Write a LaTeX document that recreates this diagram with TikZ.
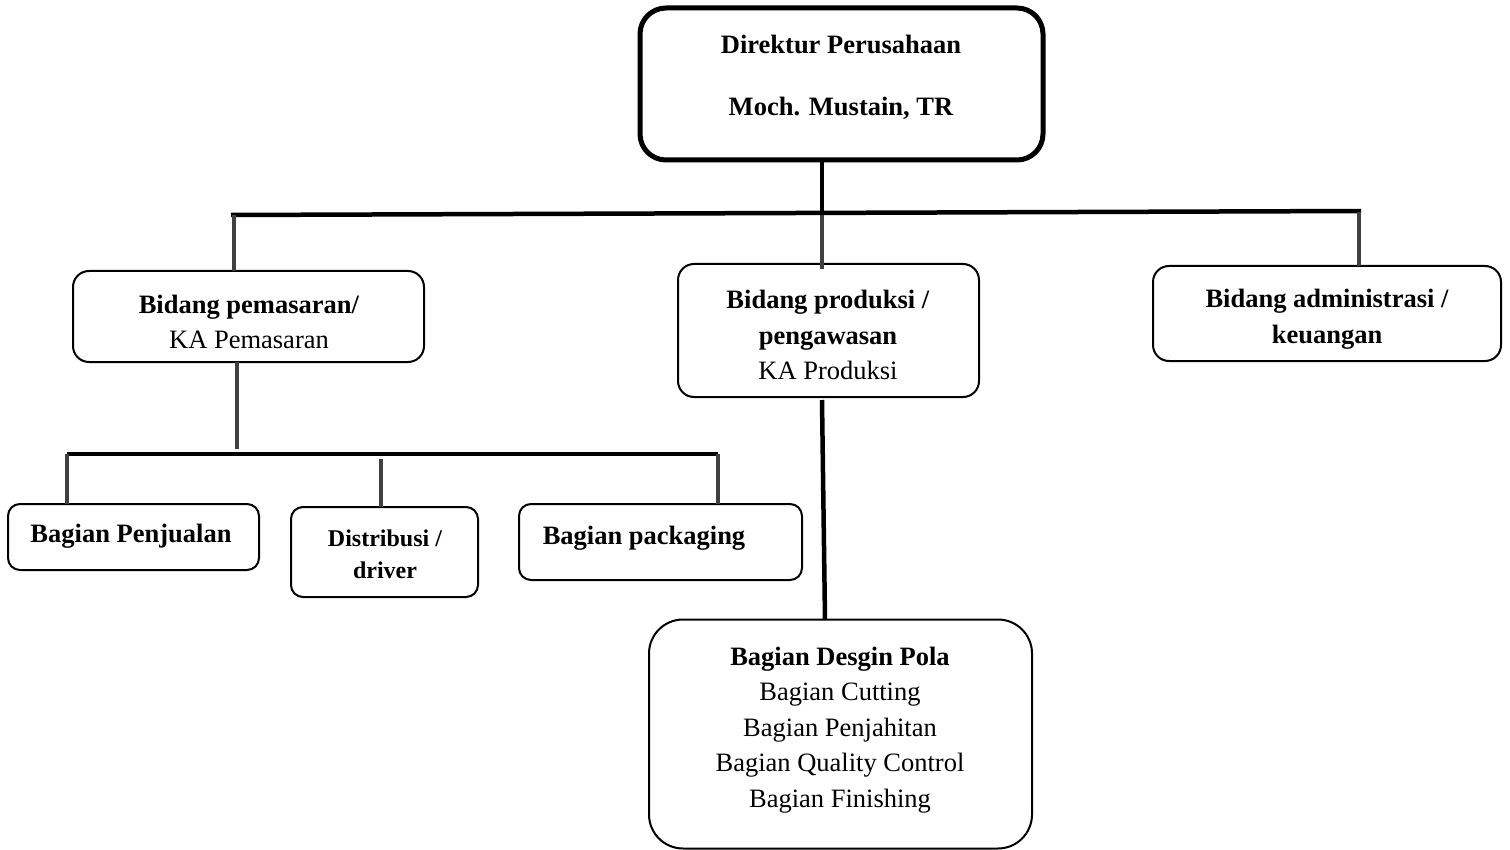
\documentclass[tikz,border=0pt]{standalone}
\usepackage{fontspec}
\setmainfont{Liberation Serif}
\begin{document}
\begin{tikzpicture}[x=1pt,y=-1pt,
  box/.style={draw=black, fill=white, line width=2pt, rounded corners=16pt,
    inner sep=0pt, outer sep=0pt},
  bigbox/.style={box, line width=5pt, rounded corners=26pt},
  label/.style={align=center, inner sep=0pt, font=\fontsize{26.5}{35.5}\selectfont},
  smalllabel/.style={align=center, inner sep=0pt, font=\fontsize{24}{32}\selectfont\bfseries},
  mainline/.style={draw=black, line width=4.5pt},
  subline/.style={draw=black!75, line width=3.5pt}]
\useasboundingbox (0,0) rectangle (1510,850);

% junction points of the connectors
\coordinate (jTop) at (822,213);
\coordinate (jProdIn) at (822,269);
\coordinate (barL) at (231,215);
\coordinate (barR) at (1361,211);
\coordinate (jPemL) at (234,215);
\coordinate (jAdm) at (1359,212);
\coordinate (jPemTop) at (237,0);
\coordinate (jPemEnd) at (237,449);
\coordinate (subL) at (67,454);
\coordinate (subR) at (718,454);
\coordinate (jDis) at (381,459);
\coordinate (jProd) at (822,400);
\coordinate (jDes) at (825,0);

% boxes
\node[bigbox, minimum width=403pt, minimum height=152pt] (dir) at (841.5,84) {};
\node[box, minimum width=351pt, minimum height=91pt] (pem) at (248.5,316.5) {};
\node[box, minimum width=301pt, minimum height=133pt] (prod) at (828.5,330.5) {};
\node[box, minimum width=348pt, minimum height=95pt] (adm) at (1327,313.5) {};
\node[box, minimum width=251pt, minimum height=66pt, rounded corners=12pt] (pen) at (133.5,537) {};
\node[box, minimum width=187pt, minimum height=90pt, rounded corners=12pt] (dis) at (384.5,552) {};
\node[box, minimum width=283pt, minimum height=76pt, rounded corners=12pt] (pack) at (660.5,542) {};
\node[box, minimum width=383pt, minimum height=229pt, rounded corners=34pt] (des) at (840.5,734) {};

% connectors
\draw[mainline] (dir.south -| jTop) -- (jTop);
\draw[subline] (jTop) -- (jProdIn);
\draw[mainline] (barL) -- (barR);
\draw[subline] (jPemL) -- (jPemL |- pem.north);
\draw[subline] (jAdm) -- (jAdm |- adm.north);
\draw[subline] (pem.south -| jPemTop) -- (jPemEnd);
\draw[mainline] (subL) -- (subR);
\draw[subline] (subL) -- (subL |- pen.north);
\draw[subline] (jDis) -- (jDis |- dis.north);
\draw[subline] (subR) -- (subR |- pack.north);
\draw[mainline] (jProd) -- (des.north -| jDes);

% texts
\node[label, font=\fontsize{26.5}{62}\selectfont\bfseries] (tdir) at (841,77)
  {Direktur Perusahaan\\Moch. Mustain, TR};
\node[label] (tpem) at (249,322) {\textbf{Bidang pemasaran/}\\KA Pemasaran};
\node[label] (tprod) at (828,335) {\textbf{Bidang produksi /}\\\textbf{pengawasan}\\KA Produksi};
\node[label, font=\fontsize{26.5}{35.5}\selectfont\bfseries] (tadm) at (1327,319)
  {Bidang administrasi /\\keuangan};
\node[label, font=\fontsize{26.5}{35.5}\selectfont\bfseries] (tpen) at (131,536) {Bagian Penjualan};
\node[smalllabel] (tdis) at (385,554) {Distribusi /\\driver};
\node[label, font=\fontsize{26.5}{35.5}\selectfont\bfseries] (tpack) at (644,538) {Bagian packaging};
\node[label] (tdes) at (840,730) {\textbf{Bagian Desgin Pola}\\Bagian Cutting\\Bagian Penjahitan\\Bagian Quality Control\\Bagian Finishing};
\end{tikzpicture}
\end{document}
